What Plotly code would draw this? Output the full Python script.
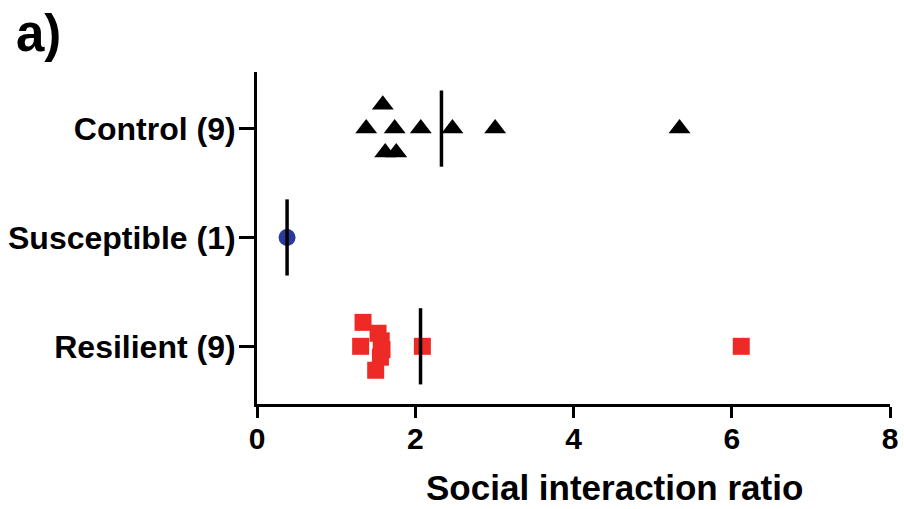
import numpy as np
import plotly.graph_objects as go

# ---- data ----
groups = ["Control (9)", "Susceptible (1)", "Resilient (9)"]
control = [1.59, 1.38, 1.74, 2.07, 2.47, 3.01, 5.34, 1.62, 1.76]
control_jit = [0.22, 0, 0, 0, 0, 0, 0, -0.22, -0.22]
susceptible = [0.38]
susceptible_jit = [0]
resilient = [1.34, 1.31, 1.53, 1.57, 1.58, 1.56, 1.50, 2.09, 6.12]
resilient_jit = [0.22, 0, 0.12, 0.05, -0.03, -0.10, -0.22, 0, 0]
x_ticks = [0, 2, 4, 6, 8]

group_pos = {"Control (9)": 2, "Susceptible (1)": 1, "Resilient (9)": 0}

series = [
    ("Control (9)", control, control_jit, "triangle-up", "black", 19),
    ("Susceptible (1)", susceptible, susceptible_jit, "circle", "#2B3A98", 17),
    ("Resilient (9)", resilient, resilient_jit, "square", "#EE2A26", 17),
]

fig = go.Figure()
for name, vals, jit, sym, col, sz in series:
    g = group_pos[name]
    fig.add_trace(go.Scatter(
        x=vals, y=[g + j for j in jit], mode="markers",
        marker=dict(symbol=sym, color=col, size=sz, line=dict(width=0)),
        showlegend=False, cliponaxis=False))
for name, vals, jit, sym, col, sz in series:
    g = group_pos[name]
    m = float(np.mean(vals))
    fig.add_trace(go.Scatter(
        x=[m, m], y=[g - 0.35, g + 0.35], mode="lines",
        line=dict(color="black", width=3.5), showlegend=False, cliponaxis=False))

font = "Liberation Sans, Arial, sans-serif"
fig.update_layout(
    width=904, height=509,
    margin=dict(l=257, r=14, t=72, b=105),
    paper_bgcolor="white", plot_bgcolor="white",
    font=dict(family=font, color="black"),
    xaxis=dict(range=[0, 8], tickvals=x_ticks, ticktext=[str(t) for t in x_ticks],
               showgrid=False, zeroline=False, showline=True, linecolor="black",
               linewidth=3, ticks="outside", ticklen=11, tickwidth=3, automargin=False,
               ticklabelstandoff=-5,
               tickcolor="black", tickfont=dict(size=30, family=font, weight="bold")),
    yaxis=dict(range=[-0.53, 2.52], tickvals=[group_pos[g] for g in groups],
               ticktext=groups, showgrid=False, zeroline=False, showline=True,
               linecolor="black", linewidth=3, ticks="outside", ticklen=15,
               tickwidth=3, tickcolor="black", ticklabelstandoff=-3, automargin=False,
               tickfont=dict(size=32, family=font, weight="bold")),
    annotations=[
        dict(text="Social interaction ratio", xref="paper", yref="paper",
             x=(614 - 257) / 633, y=-(487 - 404) / 332, xanchor="center",
             yanchor="middle", showarrow=False,
             font=dict(size=35, family=font, weight="bold")),
        dict(text="a)", xref="paper", yref="paper", x=-(257 - 14) / 633,
             y=(404 - 34) / 332, xanchor="left", yanchor="middle",
             showarrow=False, font=dict(size=51, family=font, weight="bold")),
    ],
)

fig.write_html("out.html")
